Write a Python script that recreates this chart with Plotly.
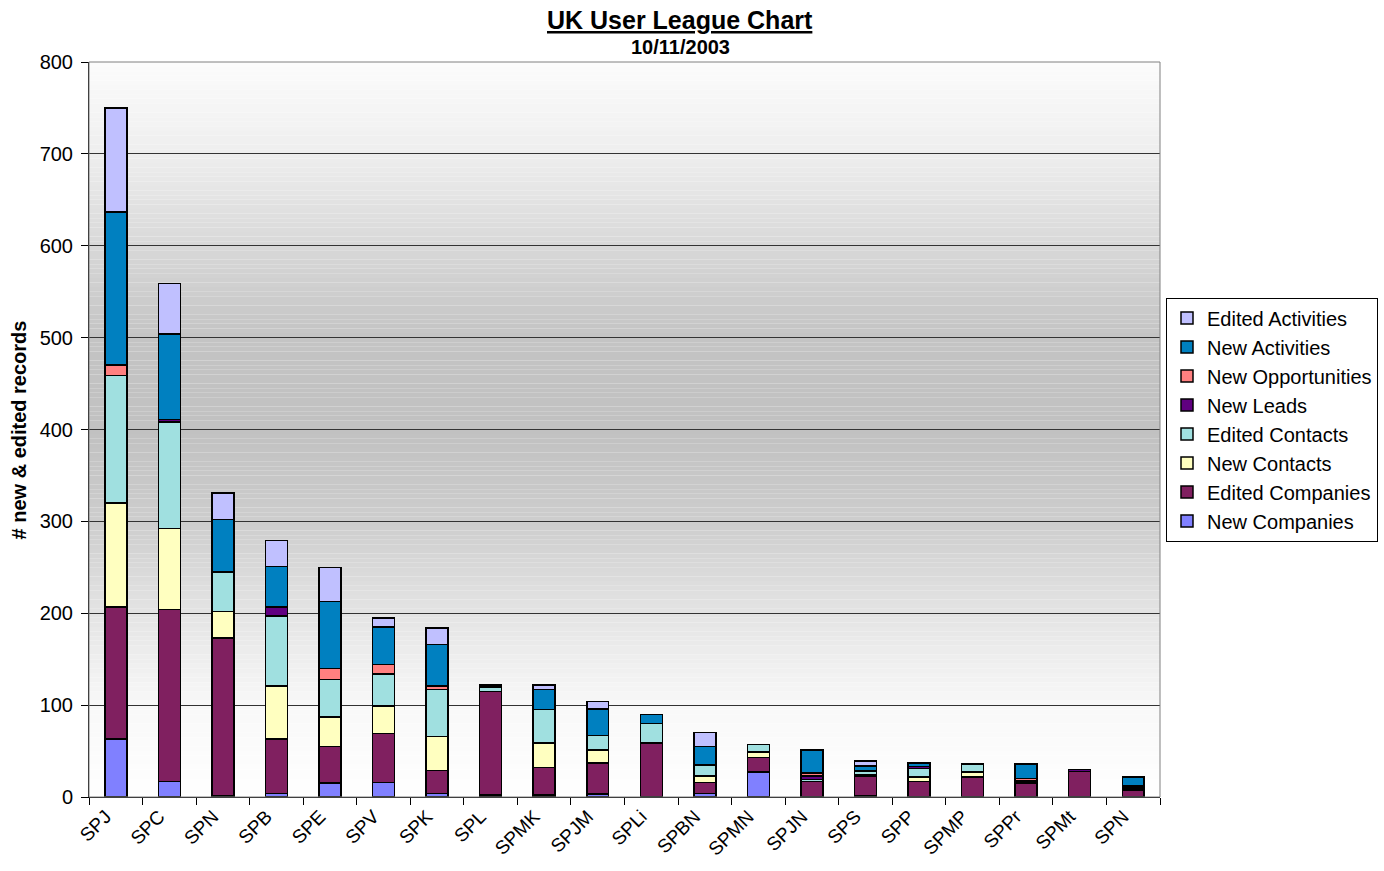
import numpy as np
import plotly.graph_objects as go

categories = ["SPJ", "SPC", "SPN", "SPB", "SPE", "SPV", "SPK", "SPL", "SPMK", "SPJM",
              "SPLi", "SPBN", "SPMN", "SPJN", "SPS", "SPP", "SPMP", "SPPr", "SPMt", "SPN"]

new_companies     = [63, 17, 1, 4, 15, 16, 4, 2, 2, 3, 0, 4, 27, 0, 1, 0, 0, 0, 0, 0]
edited_companies  = [144, 187, 172, 59, 40, 53, 25, 113, 30, 34, 59, 12, 16, 17, 22, 17, 22, 15, 28, 7]
new_contacts      = [113, 88, 29, 58, 32, 30, 37, 0, 27, 14, 0, 7, 6, 0, 1, 5, 5, 0, 0, 0]
edited_contacts   = [139, 116, 43, 76, 41, 35, 51, 4, 36, 16, 21, 12, 8, 2, 4, 9, 9, 2, 0, 1]
new_leads         = [0, 3, 0, 10, 0, 0, 0, 1, 0, 0, 0, 0, 0, 4, 1, 2, 0, 1, 2, 2]
new_opportunities = [11, 0, 0, 0, 12, 10, 4, 0, 0, 0, 0, 0, 0, 3, 0, 0, 0, 2, 0, 2]
new_activities    = [167, 93, 57, 44, 73, 41, 45, 2, 22, 29, 10, 20, 0, 25, 5, 4, 0, 16, 0, 10]
edited_activities = [113, 55, 29, 28, 37, 10, 18, 0, 5, 8, 0, 15, 0, 0, 5, 0, 0, 0, 0, 0]

series = [
    ("New Companies", new_companies, "#8080FF"),
    ("Edited Companies", edited_companies, "#802060"),
    ("New Contacts", new_contacts, "#FFFFC0"),
    ("Edited Contacts", edited_contacts, "#A0E0E0"),
    ("New Leads", new_leads, "#600080"),
    ("New Opportunities", new_opportunities, "#FF8080"),
    ("New Activities", new_activities, "#0080C0"),
    ("Edited Activities", edited_activities, "#C0C0FF"),
]

FONT = "Arial, Liberation Sans, sans-serif"
x = list(range(len(categories)))

fig = go.Figure()
for name, vals, col in series:
    fig.add_trace(go.Bar(
        x=x, y=vals, name=name, width=0.41,
        marker=dict(color=col, line=dict(color="black", width=1.5)),
    ))

# vertical gradient background (bands), drawn below gridlines
anch_v = [0, 100, 200, 300, 400, 500, 600, 700, 800]
anch_g = [255, 248, 228, 205, 193, 196, 216, 238, 252]
step = 5
shapes = []
for lo in range(0, 800, step):
    g = int(round(np.interp(lo + step / 2, anch_v, anch_g)))
    shapes.append(dict(type="rect", xref="paper", yref="y", x0=0, x1=1, y0=lo, y1=lo + step,
                       fillcolor=f"rgb({g},{g},{g})", line=dict(width=0), layer="below"))
# plot-area border
shapes.append(dict(type="rect", xref="paper", yref="paper", x0=0, x1=1, y0=0, y1=1,
                   line=dict(color="#808080", width=1), layer="above"))

# plot area in page px spans x 89..1160, y 62..797
FIG_W, FIG_H = 1384, 871
fig.update_layout(
    width=FIG_W, height=FIG_H,
    margin=dict(l=89, r=224, t=62, b=74, autoexpand=False),
    paper_bgcolor="white", plot_bgcolor="rgba(0,0,0,0)",
    barmode="stack",
    shapes=shapes,
    font=dict(family=FONT, color="black", size=19),
    showlegend=True,
    legend=dict(
        traceorder="reversed",
        xref="container", yref="container",
        x=1378 / FIG_W, xanchor="right",
        y=1 - 419.5 / FIG_H, yanchor="middle",
        bgcolor="white", bordercolor="black", borderwidth=1,
        font=dict(family=FONT, size=20, color="black"),
    ),
    xaxis=dict(
        range=[-0.5, len(categories) - 0.5], automargin=False,
        tickmode="array", tickvals=x, ticktext=categories,
        tickangle=-45, ticks="", showgrid=False, zeroline=False,
        showline=True, linecolor="black", linewidth=1,
        ticklabelshift=-10,
        tickfont=dict(family=FONT, size=19, color="black"),
        minor=dict(tickmode="array", tickvals=[i - 0.5 for i in range(len(categories) + 1)],
                   ticks="outside", ticklen=7, tickcolor="black", tickwidth=1, showgrid=False),
    ),
    yaxis=dict(
        range=[0, 800], automargin=False, tickmode="linear", tick0=0, dtick=100,
        ticks="outside", ticklen=7, tickcolor="black",
        showgrid=True, gridcolor="#333333", gridwidth=1,
        zeroline=False, showline=True, linecolor="black", linewidth=1,
        ticklabelstandoff=4,
        tickfont=dict(family=FONT, size=20, color="black"),
    ),
    annotations=[
        dict(text="<b><u>UK User League Chart</u></b>", xref="paper", yref="paper",
             x=(680 - 89) / 1071, y=(797 - 20) / 735, xanchor="center", yanchor="middle",
             showarrow=False, borderpad=0, font=dict(family=FONT, size=25, color="black")),
        dict(text="<b>10/11/2003</b>", xref="paper", yref="paper",
             x=(680 - 89) / 1071, y=(797 - 47) / 735, xanchor="center", yanchor="middle",
             showarrow=False, borderpad=0, font=dict(family=FONT, size=20, color="black")),
        dict(text="<b># new & edited records</b>", xref="paper", yref="paper",
             x=(18 - 89) / 1071, y=(797 - 430.5) / 735, xanchor="center", yanchor="middle",
             textangle=-90, showarrow=False, borderpad=0, font=dict(family=FONT, size=20, color="black")),
    ],
)

fig.write_html("out.html", config={"displayModeBar": False},
               post_script="document.body.style.margin='0';document.body.style.overflow='hidden';")
